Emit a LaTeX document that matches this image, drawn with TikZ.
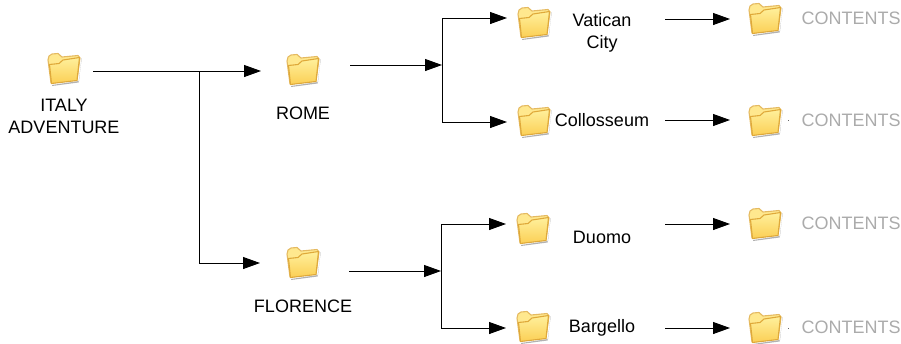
\documentclass[tikz,border=0pt]{standalone}
\usepackage{fontspec}
\setmainfont{Liberation Sans}
\usetikzlibrary{arrows.meta, positioning}

\newcommand{\drawfolder}{%
    \begin{scope}[shift={(path picture bounding box.center)}]
        % Shadow
        \fill[black, opacity=0.3] (-12,17) -- (15,13) -- (17.5,-10) -- (17.5,-8) -- (14.5,14.5) -- (-12,18) -- cycle;
        % Back with tab
        \filldraw[draw=folderedge!80, fill=foldertab, line width=1.1pt, line join=round]
            (-13,15) -- (-16,-8) -- (-15,-12) -- (-12,-14) -- (-6,-14.5) -- (-2,-11) -- (14,-12.5) -- (16,-10) -- (13,12) -- cycle;
        % Front panel
        \path[draw=folderedge, top color=folderlight, bottom color=folderdark, line width=1.1pt, line join=round]
            (-14.5,-3.5) -- (-5,-4.5) -- (-1,-8) -- (15.5,-10.5) -- (13,12.5) -- (-12.5,15.5) -- cycle;
    \end{scope}%
}

\definecolor{folderedge}{HTML}{DFA93A}
\definecolor{foldertab}{HTML}{FFE88E}
\definecolor{folderlight}{HTML}{FFF09C}
\definecolor{folderdark}{HTML}{FBCF55}
\definecolor{contentgray}{HTML}{ABABAB}

\begin{document}
\begin{tikzpicture}[x=1pt,y=-1pt,>={Triangle[length=17pt,width=12pt]}]

% =========================
% Styles
% =========================
\tikzset{
    folder/.style={inner sep=0pt, outer sep=0pt, minimum width=36pt, minimum height=36pt, path picture={\drawfolder}},
    label/.style={inner sep=0pt, outer sep=0pt, align=center, font=\fontsize{18}{22}\selectfont},
    sitelabel/.style={label, minimum width=126pt},
    contentlabel/.style={label, text=contentgray},
    speck/.style={fill=black!60, inner sep=0pt, minimum size=1pt},
    arrow/.style={->, line width=0.95pt}
}

\useasboundingbox (0,0) rectangle (901,343);

% =========================
% Root folder
% =========================
\node[folder] (italy) at (64,68) {};
\node[label] (italytext) at (64,116.5) {ITALY\\ADVENTURE};

% =========================
% City folders
% =========================
\node[folder] (rome) at (303,69) {};
\node[label] (rometext) at (303,113) {ROME};
\node[folder] (florence) at (303,262) {};
\node[label] (florencetext) at (303,306) {FLORENCE};

% =========================
% Site folders
% =========================
\node[folder] (vatican) at (534,22) {};
\node[sitelabel] (vaticantext) at (602,32.5) {Vatican\\City};
\node[folder] (collosseum) at (534,120) {};
\node[sitelabel] (collosseumtext) at (602,120) {Collosseum};
\node[folder] (duomo) at (533,228) {};
\node[sitelabel] (duomotext) at (602,237) {Duomo};
\node[folder] (bargello) at (533,326) {};
\node[sitelabel] (bargellotext) at (602,328) {Bargello};

% =========================
% Contents folders
% =========================
\foreach \n/\y in {a/18,b/120,c/223,d/327} {
    \node[folder] (content\n) at (765,\y) {};
    \node[contentlabel] (contenttext\n) at (851,\y) {CONTENTS};
}
\node[speck] (speckb) at (788,120) {};
\node[speck] (speckd) at (788,328) {};

% =========================
% Junctions
% =========================
\coordinate (forkroot) at (199,71);
\coordinate (forkrome) at (442,65);
\coordinate (forkflorence) at (441,271);

% =========================
% Root to cities
% =========================
\draw[arrow] ([xshift=11pt,yshift=-3pt]italy.east) -- ([xshift=-24pt,yshift=-2pt]rome.west);
\draw[arrow] (forkroot) |- ([xshift=-25pt,yshift=-1pt]florence.west);

% =========================
% Cities to sites
% =========================
\draw[arrow] ([xshift=29pt,yshift=4pt]rome.east) -- (forkrome);
\draw[arrow] (forkrome) |- ([xshift=-9pt,yshift=4pt]vatican.west);
\draw[arrow] (forkrome) |- ([xshift=-9pt,yshift=-2pt]collosseum.west);
\draw[arrow] ([xshift=28pt,yshift=-9pt]florence.east) -- (forkflorence);
\draw[arrow] (forkflorence) |- ([xshift=-9pt,yshift=4pt]duomo.west);
\draw[arrow] (forkflorence) |- ([xshift=-9pt,yshift=-2pt]bargello.west);

% =========================
% Sites to contents
% =========================
\draw[arrow] ([yshift=13.5pt]vaticantext.east) -- ([xshift=-17pt,yshift=-1pt]contenta.west);
\draw[arrow] (collosseumtext.east) -- ([xshift=-17pt]contentb.west);
\draw[arrow] ([yshift=13pt]duomotext.east) -- ([xshift=-17pt,yshift=-1pt]contentc.west);
\draw[arrow] ([yshift=0pt]bargellotext.east) -- ([xshift=-17pt,yshift=-1pt]contentd.west);

\end{tikzpicture}
\end{document}
